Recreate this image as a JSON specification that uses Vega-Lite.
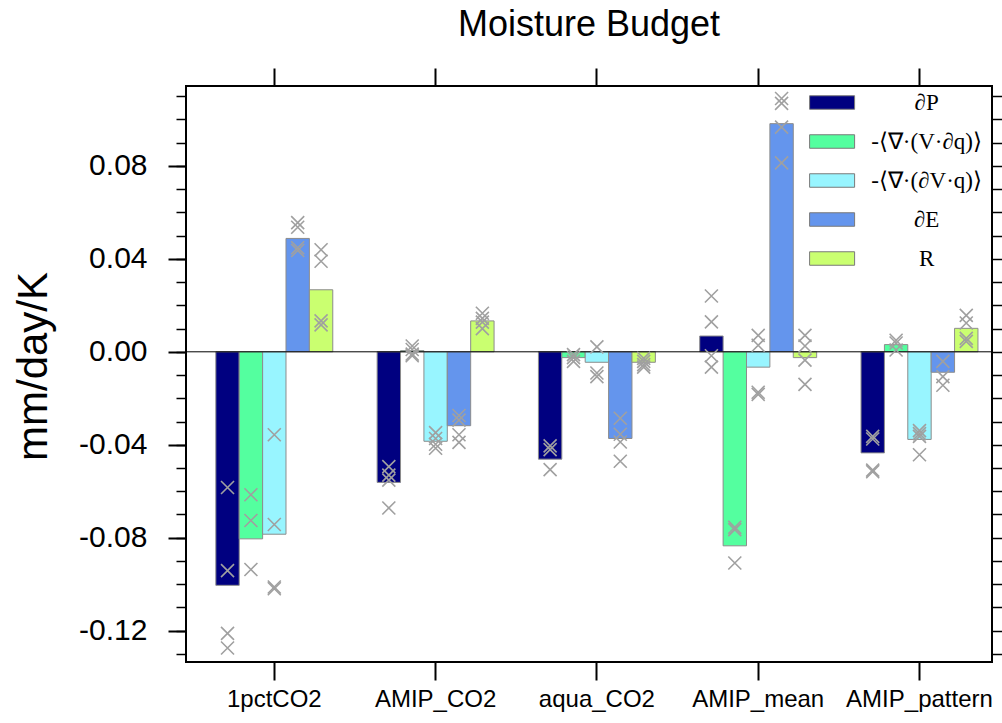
{
  "$schema": "https://vega.github.io/schema/vega-lite/v6.json",
  "width": 806,
  "height": 576,
  "autosize": "none",
  "padding": {"left": 186, "top": 86, "right": 10, "bottom": 61},
  "background": "white",
  "config": {
    "view": {"stroke": "black", "strokeWidth": 2},
    "font": "Liberation Sans"
  },
  "title": {
    "text": "Moisture Budget",
    "fontSize": 36,
    "font": "Liberation Sans",
    "fontWeight": "normal",
    "color": "black",
    "anchor": "middle",
    "frame": "group",
    "baseline": "alphabetic",
    "offset": 49,
    "dy": 54
  },
  "datasets": {
    "bars": [
      {"exp": "1pctCO2", "term": "∂P", "value": -0.1005},
      {"exp": "1pctCO2", "term": "-⟨∇·(V·∂q)⟩", "value": -0.0805},
      {"exp": "1pctCO2", "term": "-⟨∇·(∂V·q)⟩", "value": -0.0785},
      {"exp": "1pctCO2", "term": "∂E", "value": 0.0488},
      {"exp": "1pctCO2", "term": "R", "value": 0.0267},
      {"exp": "AMIP_CO2", "term": "∂P", "value": -0.0562},
      {"exp": "AMIP_CO2", "term": "-⟨∇·(V·∂q)⟩", "value": 0.0005},
      {"exp": "AMIP_CO2", "term": "-⟨∇·(∂V·q)⟩", "value": -0.0385},
      {"exp": "AMIP_CO2", "term": "∂E", "value": -0.0318},
      {"exp": "AMIP_CO2", "term": "R", "value": 0.0133},
      {"exp": "aqua_CO2", "term": "∂P", "value": -0.0462},
      {"exp": "aqua_CO2", "term": "-⟨∇·(V·∂q)⟩", "value": -0.0025},
      {"exp": "aqua_CO2", "term": "-⟨∇·(∂V·q)⟩", "value": -0.0045},
      {"exp": "aqua_CO2", "term": "∂E", "value": -0.0373},
      {"exp": "aqua_CO2", "term": "R", "value": -0.0045},
      {"exp": "AMIP_mean", "term": "∂P", "value": 0.0068},
      {"exp": "AMIP_mean", "term": "-⟨∇·(V·∂q)⟩", "value": -0.0835},
      {"exp": "AMIP_mean", "term": "-⟨∇·(∂V·q)⟩", "value": -0.0066},
      {"exp": "AMIP_mean", "term": "∂E", "value": 0.0982},
      {"exp": "AMIP_mean", "term": "R", "value": -0.0025},
      {"exp": "AMIP_pattern", "term": "∂P", "value": -0.0435},
      {"exp": "AMIP_pattern", "term": "-⟨∇·(V·∂q)⟩", "value": 0.0031},
      {"exp": "AMIP_pattern", "term": "-⟨∇·(∂V·q)⟩", "value": -0.0377},
      {"exp": "AMIP_pattern", "term": "∂E", "value": -0.0088},
      {"exp": "AMIP_pattern", "term": "R", "value": 0.0101}
    ],
    "models": [
      {"exp": "1pctCO2", "term": "∂P", "value": -0.0584},
      {"exp": "1pctCO2", "term": "∂P", "value": -0.0942},
      {"exp": "1pctCO2", "term": "∂P", "value": -0.1212},
      {"exp": "1pctCO2", "term": "∂P", "value": -0.1275},
      {"exp": "1pctCO2", "term": "-⟨∇·(V·∂q)⟩", "value": -0.0615},
      {"exp": "1pctCO2", "term": "-⟨∇·(V·∂q)⟩", "value": -0.0726},
      {"exp": "1pctCO2", "term": "-⟨∇·(V·∂q)⟩", "value": -0.0937},
      {"exp": "1pctCO2", "term": "-⟨∇·(∂V·q)⟩", "value": -0.0357},
      {"exp": "1pctCO2", "term": "-⟨∇·(∂V·q)⟩", "value": -0.0743},
      {"exp": "1pctCO2", "term": "-⟨∇·(∂V·q)⟩", "value": -0.1012},
      {"exp": "1pctCO2", "term": "-⟨∇·(∂V·q)⟩", "value": -0.102},
      {"exp": "1pctCO2", "term": "∂E", "value": 0.0556},
      {"exp": "1pctCO2", "term": "∂E", "value": 0.0536},
      {"exp": "1pctCO2", "term": "∂E", "value": 0.0448},
      {"exp": "1pctCO2", "term": "∂E", "value": 0.0436},
      {"exp": "1pctCO2", "term": "R", "value": 0.0439},
      {"exp": "1pctCO2", "term": "R", "value": 0.039},
      {"exp": "1pctCO2", "term": "R", "value": 0.0133},
      {"exp": "1pctCO2", "term": "R", "value": 0.0116},
      {"exp": "AMIP_CO2", "term": "∂P", "value": -0.0494},
      {"exp": "AMIP_CO2", "term": "∂P", "value": -0.0531},
      {"exp": "AMIP_CO2", "term": "∂P", "value": -0.0552},
      {"exp": "AMIP_CO2", "term": "∂P", "value": -0.0672},
      {"exp": "AMIP_CO2", "term": "-⟨∇·(V·∂q)⟩", "value": 0.0025},
      {"exp": "AMIP_CO2", "term": "-⟨∇·(V·∂q)⟩", "value": 0.001},
      {"exp": "AMIP_CO2", "term": "-⟨∇·(V·∂q)⟩", "value": -0.001},
      {"exp": "AMIP_CO2", "term": "-⟨∇·(V·∂q)⟩", "value": -0.0017},
      {"exp": "AMIP_CO2", "term": "-⟨∇·(∂V·q)⟩", "value": -0.0348},
      {"exp": "AMIP_CO2", "term": "-⟨∇·(∂V·q)⟩", "value": -0.0373},
      {"exp": "AMIP_CO2", "term": "-⟨∇·(∂V·q)⟩", "value": -0.0398},
      {"exp": "AMIP_CO2", "term": "-⟨∇·(∂V·q)⟩", "value": -0.0415},
      {"exp": "AMIP_CO2", "term": "∂E", "value": -0.0274},
      {"exp": "AMIP_CO2", "term": "∂E", "value": -0.0294},
      {"exp": "AMIP_CO2", "term": "∂E", "value": -0.0357},
      {"exp": "AMIP_CO2", "term": "∂E", "value": -0.039},
      {"exp": "AMIP_CO2", "term": "R", "value": 0.0166},
      {"exp": "AMIP_CO2", "term": "R", "value": 0.0144},
      {"exp": "AMIP_CO2", "term": "R", "value": 0.0128},
      {"exp": "AMIP_CO2", "term": "R", "value": 0.01},
      {"exp": "aqua_CO2", "term": "∂P", "value": -0.0405},
      {"exp": "aqua_CO2", "term": "∂P", "value": -0.0421},
      {"exp": "aqua_CO2", "term": "∂P", "value": -0.0507},
      {"exp": "aqua_CO2", "term": "-⟨∇·(V·∂q)⟩", "value": -0.0012},
      {"exp": "aqua_CO2", "term": "-⟨∇·(V·∂q)⟩", "value": -0.0025},
      {"exp": "aqua_CO2", "term": "-⟨∇·(V·∂q)⟩", "value": -0.0041},
      {"exp": "aqua_CO2", "term": "-⟨∇·(∂V·q)⟩", "value": 0.0021},
      {"exp": "aqua_CO2", "term": "-⟨∇·(∂V·q)⟩", "value": -0.0091},
      {"exp": "aqua_CO2", "term": "-⟨∇·(∂V·q)⟩", "value": -0.0107},
      {"exp": "aqua_CO2", "term": "∂E", "value": -0.0286},
      {"exp": "aqua_CO2", "term": "∂E", "value": -0.0355},
      {"exp": "aqua_CO2", "term": "∂E", "value": -0.0388},
      {"exp": "aqua_CO2", "term": "∂E", "value": -0.0471},
      {"exp": "aqua_CO2", "term": "R", "value": -0.0028},
      {"exp": "aqua_CO2", "term": "R", "value": -0.0041},
      {"exp": "aqua_CO2", "term": "R", "value": -0.0055},
      {"exp": "aqua_CO2", "term": "R", "value": -0.0066},
      {"exp": "AMIP_mean", "term": "∂P", "value": 0.024},
      {"exp": "AMIP_mean", "term": "∂P", "value": 0.0129},
      {"exp": "AMIP_mean", "term": "∂P", "value": -0.0017},
      {"exp": "AMIP_mean", "term": "∂P", "value": -0.0066},
      {"exp": "AMIP_mean", "term": "-⟨∇·(V·∂q)⟩", "value": -0.0755},
      {"exp": "AMIP_mean", "term": "-⟨∇·(V·∂q)⟩", "value": -0.0765},
      {"exp": "AMIP_mean", "term": "-⟨∇·(V·∂q)⟩", "value": -0.0909},
      {"exp": "AMIP_mean", "term": "-⟨∇·(∂V·q)⟩", "value": 0.0071},
      {"exp": "AMIP_mean", "term": "-⟨∇·(∂V·q)⟩", "value": 0.0028},
      {"exp": "AMIP_mean", "term": "-⟨∇·(∂V·q)⟩", "value": -0.0174},
      {"exp": "AMIP_mean", "term": "-⟨∇·(∂V·q)⟩", "value": -0.0183},
      {"exp": "AMIP_mean", "term": "∂E", "value": 0.109},
      {"exp": "AMIP_mean", "term": "∂E", "value": 0.1069},
      {"exp": "AMIP_mean", "term": "∂E", "value": 0.0967},
      {"exp": "AMIP_mean", "term": "∂E", "value": 0.0813},
      {"exp": "AMIP_mean", "term": "R", "value": 0.0071},
      {"exp": "AMIP_mean", "term": "R", "value": 0.0025},
      {"exp": "AMIP_mean", "term": "R", "value": -0.0036},
      {"exp": "AMIP_mean", "term": "R", "value": -0.014},
      {"exp": "AMIP_pattern", "term": "∂P", "value": -0.0364},
      {"exp": "AMIP_pattern", "term": "∂P", "value": -0.0375},
      {"exp": "AMIP_pattern", "term": "∂P", "value": -0.0509},
      {"exp": "AMIP_pattern", "term": "∂P", "value": -0.0516},
      {"exp": "AMIP_pattern", "term": "-⟨∇·(V·∂q)⟩", "value": 0.005},
      {"exp": "AMIP_pattern", "term": "-⟨∇·(V·∂q)⟩", "value": 0.0038},
      {"exp": "AMIP_pattern", "term": "-⟨∇·(V·∂q)⟩", "value": 0.0008},
      {"exp": "AMIP_pattern", "term": "-⟨∇·(∂V·q)⟩", "value": -0.0339},
      {"exp": "AMIP_pattern", "term": "-⟨∇·(∂V·q)⟩", "value": -0.0352},
      {"exp": "AMIP_pattern", "term": "-⟨∇·(∂V·q)⟩", "value": -0.0364},
      {"exp": "AMIP_pattern", "term": "-⟨∇·(∂V·q)⟩", "value": -0.0443},
      {"exp": "AMIP_pattern", "term": "∂E", "value": -0.0041},
      {"exp": "AMIP_pattern", "term": "∂E", "value": -0.0107},
      {"exp": "AMIP_pattern", "term": "∂E", "value": -0.0144},
      {"exp": "AMIP_pattern", "term": "R", "value": 0.0157},
      {"exp": "AMIP_pattern", "term": "R", "value": 0.0124},
      {"exp": "AMIP_pattern", "term": "R", "value": 0.0058},
      {"exp": "AMIP_pattern", "term": "R", "value": 0.0045}
    ]
  },
  "layer": [
    {
      "data": {"name": "bars"},
      "mark": {"type": "bar", "stroke": "#8c8c8c", "strokeWidth": 1},
      "encoding": {
        "x": {
          "field": "exp",
          "type": "nominal",
          "scale": {
            "domain": ["1pctCO2", "AMIP_CO2", "aqua_CO2", "AMIP_mean", "AMIP_pattern"],
            "paddingInner": 0.275,
            "paddingOuter": 0.136,
            "align": 0.68,
            "round": false
          },
          "axis": {
            "orient": "bottom",
            "title": null,
            "labelAngle": 0,
            "labelFont": "Liberation Sans",
            "labelFontSize": 24,
            "labelColor": "black",
            "labelPadding": 7,
            "tickSize": 18,
            "tickWidth": 2,
            "tickColor": "black",
            "domain": false,
            "grid": false
          }
        },
        "xOffset": {
          "field": "term",
          "type": "nominal",
          "scale": {
            "domain": ["∂P", "-⟨∇·(V·∂q)⟩", "-⟨∇·(∂V·q)⟩", "∂E", "R"],
            "paddingInner": 0,
            "paddingOuter": 0
          }
        },
        "y": {
          "field": "value",
          "type": "quantitative",
          "scale": {"domain": [-0.1335, 0.1144], "nice": false, "zero": false},
          "axis": {
            "orient": "left",
            "values": [-0.12, -0.08, -0.04, 0, 0.04, 0.08],
            "labelExpr": "replace(format(datum.value, '.2f'), '\u2212', '-')",
            "labelFont": "Liberation Sans",
            "labelFontSize": 30,
            "labelColor": "black",
            "labelPadding": 21,
            "tickSize": 18,
            "tickWidth": 2,
            "tickColor": "black",
            "domain": false,
            "grid": false,
            "title": "mm/day/K",
            "titleFont": "Liberation Sans",
            "titleFontSize": 42,
            "titleFontWeight": "normal",
            "titleColor": "black",
            "titleAngle": -90,
            "titleAlign": "center",
            "titleBaseline": "alphabetic",
            "titleX": -140,
            "titleY": 280
          }
        },
        "color": {
          "field": "term",
          "type": "nominal",
          "scale": {
            "domain": ["∂P", "-⟨∇·(V·∂q)⟩", "-⟨∇·(∂V·q)⟩", "∂E", "R"],
            "range": ["#000080", "#54FF9F", "#98F5FF", "#6495ED", "#CAFF70"]
          },
          "legend": {
            "orient": "none",
            "legendX": 634.6,
            "legendY": 5,
            "title": null,
            "padding": 0,
            "symbolType": "M-3,-0.9H3V0.9H-3Z",
            "symbolSize": 225,
            "symbolStrokeColor": "#7a7a7a",
            "symbolStrokeWidth": 1,
            "symbolOpacity": 1,
            "labelFont": "Liberation Serif",
            "labelFontSize": 23,
            "labelColor": "black",
            "labelAlign": "center",
            "labelOffset": 83,
            "labelLimit": 300,
            "rowPadding": 15
          }
        }
      }
    },
    {
      "data": {"values": [{"ref": 0}]},
      "mark": {"type": "rule", "color": "black", "strokeWidth": 1},
      "encoding": {
        "y": {
          "field": "ref",
          "type": "quantitative",
          "axis": {
            "orient": "right",
            "values": [-0.13, -0.12, -0.11, -0.1, -0.09, -0.08, -0.07, -0.06, -0.05, -0.04, -0.03, -0.02, -0.01, 0, 0.01, 0.02, 0.03, 0.04, 0.05, 0.06, 0.07, 0.08, 0.09, 0.1, 0.11],
            "labels": false,
            "tickSize": 10,
            "tickWidth": 1.5,
            "tickColor": "black",
            "domain": false,
            "grid": false,
            "title": null
          }
        }
      }
    },
    {
      "data": {"name": "models"},
      "mark": {
        "type": "point",
        "shape": "M-1,-1L1,1M-1,1L1,-1",
        "size": 169,
        "filled": false,
        "color": "#a0a0a0",
        "strokeWidth": 1.6,
        "opacity": 1
      },
      "encoding": {
        "x": {
          "field": "exp",
          "type": "nominal",
          "axis": {
            "orient": "top",
            "labels": false,
            "tickSize": 18,
            "tickWidth": 2,
            "tickColor": "black",
            "domain": false,
            "grid": false,
            "title": null
          }
        },
        "xOffset": {"field": "term", "type": "nominal"},
        "y": {
          "field": "value",
          "type": "quantitative",
          "axis": {
            "orient": "left",
            "values": [-0.13, -0.12, -0.11, -0.1, -0.09, -0.08, -0.07, -0.06, -0.05, -0.04, -0.03, -0.02, -0.01, 0, 0.01, 0.02, 0.03, 0.04, 0.05, 0.06, 0.07, 0.08, 0.09, 0.1, 0.11],
            "labels": false,
            "tickSize": 10,
            "tickWidth": 1.5,
            "tickColor": "black",
            "domain": false,
            "grid": false,
            "title": null
          }
        }
      }
    }
  ],
  "resolve": {"axis": {"x": "independent", "y": "independent"}}
}
